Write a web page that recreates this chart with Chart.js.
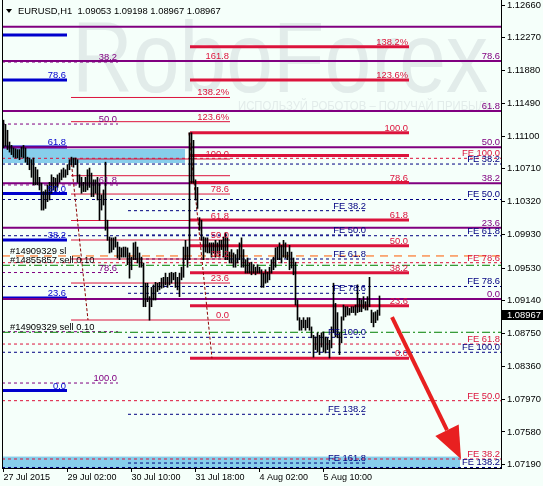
<!DOCTYPE html>
<html>
<head>
<meta charset="utf-8">
<script src="https://cdn.jsdelivr.net/npm/chart.js@4.4.0/dist/chart.umd.min.js"></script>
<style>
  html, body { margin: 0; padding: 0; background: #f5fffa; }
  canvas { display: block; }
</style>
</head>
<body>
<canvas id="myChart" width="543" height="486"></canvas>
<script>
// EURUSD H1 bars (one bar per hour)
const highs = [
  1.1129,1.1124,1.1117,1.1103,1.1099,1.1096,1.1095,1.1094,1.1094,1.1097,
  1.1099,1.1096,1.1085,1.1084,1.1082,1.1084,1.1073,1.1070,1.1061,1.1054,
  1.1044,1.1046,1.1052,1.1055,1.1064,1.1061,1.1060,1.1064,1.1066,1.1070,
  1.1072,1.1070,1.1076,1.1082,1.1085,1.1084,1.1084,1.1082,1.1064,1.1061,
  1.1055,1.1061,1.1070,1.1072,1.1066,1.1058,1.1058,1.1061,1.1054,1.1040,
  1.1046,1.1079,1.1010,1.0990,1.0989,1.0989,1.0990,1.0984,1.0978,1.0977,
  1.0978,1.0978,1.0977,1.0971,1.0966,1.0983,1.0984,1.0978,1.0971,1.0966,
  1.0959,1.0935,1.0935,1.0919,1.0930,1.0933,1.0936,1.0935,1.0936,1.0941,
  1.0942,1.0947,1.0942,1.0947,1.0948,1.0947,1.0948,1.0942,1.0947,1.0954,
  1.0978,1.0986,1.0978,1.1114,1.1114,1.1105,1.1058,1.1049,1.1013,1.1010,
  1.0990,1.0989,1.0989,1.0983,1.0983,1.0983,1.0986,1.0983,1.0986,1.0986,
  1.0990,1.0995,1.0989,1.0972,1.0975,1.0971,1.0969,1.0975,1.0983,1.0989,
  1.0975,1.0963,1.0965,1.0959,1.0960,1.0957,1.0954,1.0957,1.0954,1.0951,
  1.0947,1.0951,1.0948,1.0954,1.0963,1.0966,1.0977,1.0978,1.0983,1.0980,
  1.0986,1.0983,1.0972,1.0980,1.0972,1.0965,1.0960,1.0915,1.0894,1.0891,
  1.0894,1.0891,1.0894,1.0894,1.0883,1.0873,1.0871,1.0876,1.0873,1.0876,
  1.0877,1.0871,1.0870,1.0867,1.0883,1.0935,1.0911,1.0900,1.0876,1.0895,
  1.0909,1.0907,1.0907,1.0905,1.0907,1.0907,1.0909,1.0933,1.0917,1.0915,
  1.0919,1.0913,1.0919,1.0942,1.0903,1.0900,1.0901,1.0903,1.09198
];
const lows = [
  1.1096,1.1098,1.1094,1.1091,1.1088,1.1085,1.1084,1.1084,1.1082,1.1085,
  1.1084,1.1079,1.1076,1.1070,1.1061,1.1052,1.1052,1.1052,1.1046,1.1022,
  1.1022,1.1024,1.1032,1.1034,1.1042,1.1046,1.1044,1.1049,1.1055,1.1058,
  1.1061,1.1061,1.1064,1.1070,1.1076,1.1073,1.1076,1.1055,1.1049,1.1042,
  1.1044,1.1044,1.1046,1.1049,1.1038,1.1038,1.1042,1.1034,1.1010,1.1022,
  1.1028,1.0998,1.0986,1.0971,1.0972,1.0975,1.0978,1.0965,1.0963,1.0966,
  1.0966,1.0966,1.0957,1.0941,1.0951,1.0963,1.0963,1.0959,1.0954,1.0954,
  1.0907,1.0907,1.0913,1.0891,1.0907,1.0915,1.0915,1.0925,1.0927,1.0929,
  1.0930,1.0933,1.0930,1.0933,1.0935,1.0939,1.0930,1.0927,1.0919,1.0939,
  1.0942,1.0963,1.0954,1.0963,1.1054,1.1054,1.1034,1.1024,1.0998,1.0986,
  1.0963,1.0972,1.0971,1.0971,1.0966,1.0971,1.0966,1.0971,1.0966,1.0975,
  1.0966,1.0963,1.0963,1.0959,1.0959,1.0954,1.0954,1.0959,1.0963,1.0954,
  1.0954,1.0947,1.0947,1.0947,1.0945,1.0947,1.0945,1.0947,1.0947,1.0930,
  1.0930,1.0935,1.0936,1.0939,1.0947,1.0951,1.0954,1.0963,1.0963,1.0959,
  1.0966,1.0965,1.0963,1.0951,1.0953,1.0945,1.0909,1.0891,1.0879,1.0879,
  1.0882,1.0879,1.0882,1.0879,1.0870,1.0847,1.0856,1.0853,1.0850,1.0859,
  1.0853,1.0852,1.0856,1.0846,1.0858,1.0876,1.0871,1.0870,1.0850,1.0864,
  1.0891,1.0895,1.0897,1.0897,1.0900,1.0900,1.0897,1.0900,1.0901,1.0901,
  1.0905,1.0903,1.0903,1.0907,1.0888,1.0883,1.0888,1.0891,1.08967
];
const headerOHLC = [1.09053, 1.09198, 1.08967, 1.08967];

const yTicks = [1.12660,1.12270,1.11880,1.11490,1.11100,1.10710,1.10320,1.09930,
                1.09530,1.09140,1.08750,1.08360,1.07970,1.07580,1.07190];
const xTickPos = [0, 32, 64, 96, 128, 160];
const xTickLabels = ['27 Jul 2015','29 Jul 02:00','30 Jul 10:00','31 Jul 18:00','4 Aug 02:00','5 Aug 10:00'];

// fibo retracements
const purpleLevels = [1.12402, 1.11994, 1.11399, 1.10967, 1.10539, 1.10010, 1.09162];
const purpleNames  = ['', '78.6', '61.8', '50.0', '38.2', '23.6', '0.0'];
const purpleDashLevels = [1.11982, 1.11244, 1.10519, 1.09477, 1.08773, 1.08162];
const purpleDashNames  = ['38.2', '50.0', '61.8', '78.6', '', '100.0'];
const blueLevels = [1.12304, 1.11768, 1.10971, 1.10417, 1.09864, 1.09174, 1.08073];
const blueNames  = ['', '78.6', '61.8', '50.0', '38.2', '23.6', '0.0'];
const redLeftLevels = [1.11998, 1.11560, 1.11272, 1.10828, 1.10629, 1.10411, 1.10096, 1.09864, 1.09638, 1.09352, 1.08912];
const redLeftNames  = ['161.8', '138.2%', '123.6%', '100.0', '', '78.6', '61.8', '50.0', '38.2', '23.6', '0.0'];
const redRightLevels = [1.12164, 1.11768, 1.11141, 1.10870, 1.10548, 1.10102, 1.09796, 1.09475, 1.09082, 1.08456];
const redRightNames  = ['138.2%', '123.6%', '100.0', '', '78.6', '61.8', '50.0', '38.2', '23.6', '0.0'];

// fibo expansions
const feNavyLevels = [1.10768, 1.10346, 1.09915, 1.09311, 1.08528, 1.07157];
const feNavyNames  = ['FE 38.2', 'FE 50.0', 'FE 61.8', 'FE 78.6', 'FE 100.0', 'FE 138.2'];
const feNavy2Levels = [1.10213, 1.09924, 1.09638, 1.09230, 1.08706, 1.07790, 1.07210];
const feNavy2Names  = ['FE 38.2', 'FE 50.0', 'FE 61.8', 'FE 78.6', 'FE 100.0', 'FE 138.2', 'FE 161.8'];
const feRedLevels = [1.10836, 1.09594, 1.08626, 1.07952, 1.07258];
const feRedNames  = ['FE 100.0', 'FE 78.6', 'FE 61.8', 'FE 50.0', 'FE 38.2'];

// orders
const orderPrices = [1.09674, 1.09563, 1.08766];
const orderNames  = ['#14909329 sl', '#14855857 sell 0.10', '#14909329 sell 0.10'];

// zones [fromBar, toBar, top, bottom]
const zones = [[-0.75, 90.75, 1.10947, 1.10780], [-0.75, 228.25, 1.07287, 1.07151]];
// fibo anchor lines [bar, price, bar, price]
const anchors = [[33.75, 1.10828, 42.25, 1.08912], [92.75, 1.11141, 104.25, 1.08456]];
const arrowLine = [194.25, 1.08947, 228.75, 1.07258];

const X_MIN = -0.75, X_MAX = 248.75;
const Y_MIN = 1.071508, Y_MAX = 1.1272;
const FONT = '"Liberation Sans", Arial, sans-serif';

const groups = [
  { prices: redRightLevels, names: redRightNames, from: 93.25, to: 202.75, color: '#dc143c', width: 3, dash: [] },
  { prices: purpleLevels, names: purpleNames, from: X_MIN, to: X_MAX, color: '#800080', width: 2, dash: [] },
  { prices: blueLevels, names: blueNames, from: X_MIN, to: 31.75, color: '#0000cd', width: 3, dash: [] },
  { prices: redLeftLevels, names: redLeftNames, from: 33.75, to: 113.25, color: '#dc143c', width: 1, dash: [] },
  { prices: purpleDashLevels, names: purpleDashNames, from: X_MIN, to: 57.25, color: '#800080', width: 1, dash: [3, 3] },
  { prices: feNavyLevels, names: feNavyNames, from: X_MIN, to: X_MAX, color: '#000080', width: 1, dash: [3, 3] },
  { prices: feNavy2Levels, names: feNavy2Names, from: 62.25, to: 181.75, color: '#000080', width: 1, dash: [3, 3] },
  { prices: feRedLevels, names: feRedNames, from: X_MIN, to: X_MAX, color: '#dc143c', width: 1, dash: [3, 3] }
];
const orderStyles = [
  { color: '#ff5a00', dash: [8, 6] },
  { color: '#008000', dash: [8, 3, 2, 3] },
  { color: '#008000', dash: [8, 3, 2, 3] }
];

function hline(p, from, to, color, width, dash) {
  return { type: 'line', data: [{ x: from, y: p }, { x: to, y: p }], borderColor: color,
           borderWidth: width, borderDash: dash, pointRadius: 0, pointHitRadius: 0, fill: false };
}

const datasets = [];
datasets.push({
  type: 'bar',
  data: highs.map((h, i) => ({ x: i, y: [lows[i], h] })),
  backgroundColor: '#000000',
  borderWidth: 0,
  barThickness: 1,
  grouped: false
});
orderPrices.forEach((p, k) => datasets.push(hline(p, X_MIN, X_MAX, orderStyles[k].color, 1, orderStyles[k].dash)));
anchors.forEach(a => datasets.push({
  type: 'line', data: [{ x: a[0], y: a[1] }, { x: a[2], y: a[3] }], borderColor: '#8b0000',
  borderWidth: 1, borderDash: [3, 2], pointRadius: 0, pointHitRadius: 0, fill: false
}));
groups.forEach(g => g.prices.forEach(p => datasets.push(hline(p, g.from, g.to, g.color, g.width, g.dash))));

const mt4Plugin = {
  id: 'mt4',
  beforeDraw(chart) {
    const ctx = chart.ctx;
    ctx.save();
    ctx.fillStyle = '#f5fffa';
    ctx.fillRect(0, 0, chart.width, chart.height);
    // watermark
    ctx.fillStyle = '#e2ecea';
    ctx.font = '100px ' + FONT;
    let w = ctx.measureText('RoboForex').width;
    ctx.translate(72, 92);
    ctx.scale(416 / w, 1);
    ctx.fillText('RoboForex', 0, 0);
    ctx.restore();
    ctx.save();
    ctx.fillStyle = '#e2ecea';
    ctx.font = '13px ' + FONT;
    const sub = 'ИСПОЛЬЗУЙ РОБОТОВ – ПОЛУЧАЙ ПРИБЫЛЬ';
    w = ctx.measureText(sub).width;
    ctx.translate(238, 110);
    ctx.scale(255 / w, 1);
    ctx.fillText(sub, 0, 0);
    ctx.restore();
  },
  beforeDatasetsDraw(chart) {
    const { ctx, scales: { x, y } } = chart;
    ctx.save();
    ctx.fillStyle = '#87ceeb';
    zones.forEach(z => {
      const x0 = x.getPixelForValue(z[0]), x1 = x.getPixelForValue(z[1]);
      const y0 = y.getPixelForValue(z[2]), y1 = y.getPixelForValue(z[3]);
      ctx.fillRect(x0, y0, x1 - x0, y1 - y0);
    });
    ctx.restore();
  },
  afterDatasetsDraw(chart) {
    const { ctx, chartArea, scales: { x, y } } = chart;
    ctx.save();
    ctx.font = '9.4px ' + FONT;
    ctx.textBaseline = 'alphabetic';
    // level labels
    ctx.textAlign = 'right';
    groups.forEach(g => {
      ctx.fillStyle = g.color;
      const xr = Math.min(x.getPixelForValue(g.to), chartArea.right) - 1;
      g.prices.forEach((p, k) => {
        if (g.names[k]) ctx.fillText(g.names[k], xr, y.getPixelForValue(p) - 2);
      });
    });
    // order labels
    ctx.textAlign = 'left';
    ctx.fillStyle = '#000000';
    orderPrices.forEach((p, k) => ctx.fillText(orderNames[k], chartArea.left + 8, y.getPixelForValue(p) - 2));
    // header
    ctx.beginPath();
    ctx.moveTo(6, 9); ctx.lineTo(12, 9); ctx.lineTo(9, 13); ctx.closePath();
    ctx.fill();
    ctx.fillText('EURUSD,H1  ' + headerOHLC.map(v => v.toFixed(5)).join(' '), 18, 14);
    // left border
    ctx.strokeStyle = '#000000';
    ctx.lineWidth = 1;
    ctx.beginPath();
    ctx.moveTo(chartArea.left + 0.5, chartArea.top);
    ctx.lineTo(chartArea.left + 0.5, chartArea.bottom);
    ctx.stroke();
    // arrow
    const ax0 = x.getPixelForValue(arrowLine[0]), ay0 = y.getPixelForValue(arrowLine[1]);
    const ax1 = x.getPixelForValue(arrowLine[2]), ay1 = y.getPixelForValue(arrowLine[3]);
    const ang = Math.atan2(ay1 - ay0, ax1 - ax0);
    const headLen = 32, headW = 13;
    const bx = ax1 - headLen * Math.cos(ang), by = ay1 - headLen * Math.sin(ang);
    ctx.strokeStyle = '#e82020';
    ctx.fillStyle = '#e82020';
    ctx.lineWidth = 4;
    ctx.beginPath();
    ctx.moveTo(ax0, ay0); ctx.lineTo(bx, by); ctx.stroke();
    ctx.beginPath();
    ctx.moveTo(ax1, ay1);
    ctx.lineTo(bx + headW * Math.sin(ang), by - headW * Math.cos(ang));
    ctx.lineTo(bx - headW * Math.sin(ang), by + headW * Math.cos(ang));
    ctx.closePath();
    ctx.fill();
    // bid price box
    const last = headerOHLC[3];
    const py = Math.round(y.getPixelForValue(last));
    ctx.fillStyle = '#000000';
    ctx.fillRect(chartArea.right + 1, py - 5, chart.width - chartArea.right - 1, 10);
    ctx.fillStyle = '#ffffff';
    ctx.textBaseline = 'middle';
    ctx.fillText(last.toFixed(5), chartArea.right + 6, py);
    ctx.restore();
  }
};

new Chart(document.getElementById('myChart'), {
  type: 'bar',
  data: { datasets: datasets },
  options: {
    responsive: false,
    animation: false,
    devicePixelRatio: 1,
    events: [],
    layout: { padding: { left: 2, right: 0, top: 0, bottom: 0 } },
    plugins: { legend: { display: false }, tooltip: { enabled: false } },
    scales: {
      x: {
        type: 'linear', min: X_MIN, max: X_MAX, offset: false,
        afterBuildTicks: s => { s.ticks = xTickPos.map(v => ({ value: v })); },
        afterFit: s => { s.height = 18; s.paddingLeft = 0; s.paddingRight = 0; },
        ticks: {
          autoSkip: false, maxRotation: 0, align: 'start', padding: 0,
          color: '#000000', font: { family: FONT, size: 9 },
          callback: (v, i) => xTickLabels[i]
        },
        grid: { drawOnChartArea: false, offset: false, tickLength: 4, color: '#000000' },
        border: { color: '#000000' }
      },
      y: {
        type: 'linear', position: 'right', min: Y_MIN, max: Y_MAX,
        afterBuildTicks: s => { s.ticks = yTicks.map(v => ({ value: v })); },
        afterFit: s => { s.width = 42; s.paddingTop = 0; s.paddingBottom = 0; },
        ticks: {
          padding: 2, color: '#000000', font: { family: FONT, size: 9.4 },
          callback: v => v.toFixed(5)
        },
        grid: { drawOnChartArea: false, tickLength: 4, color: '#000000' },
        border: { color: '#000000' }
      }
    }
  },
  plugins: [mt4Plugin]
});
</script>
</body>
</html>
